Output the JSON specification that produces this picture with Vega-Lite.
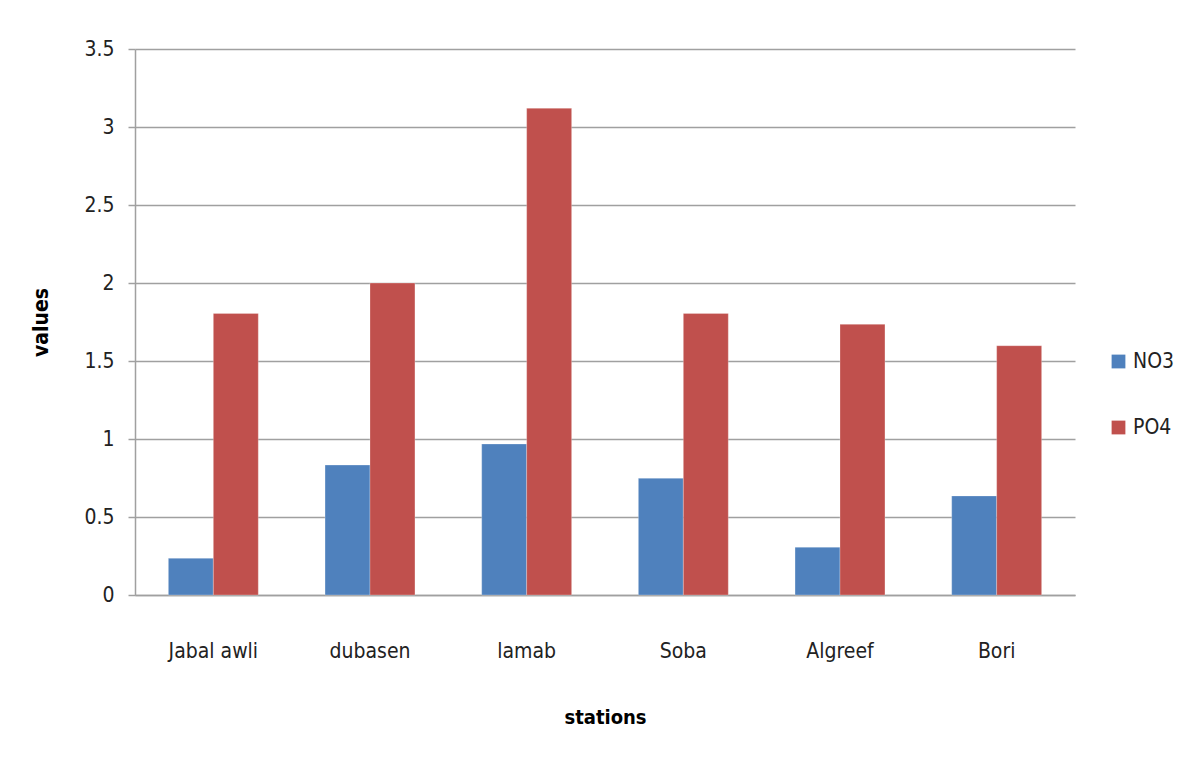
{
  "$schema": "https://vega.github.io/schema/vega-lite/v6.json",
  "width": 940,
  "height": 546,
  "autosize": {"type": "none"},
  "padding": {"left": 135, "top": 49, "right": 119, "bottom": 175},
  "background": "white",
  "config": {
    "view": {"stroke": null},
    "font": "Liberation Sans Narrow, DejaVu Sans Condensed, sans-serif"
  },
  "data": {
    "values": [
      {"station": "Jabal awli", "series": "NO3", "value": 0.235},
      {"station": "Jabal awli", "series": "PO4", "value": 1.805},
      {"station": "dubasen", "series": "NO3", "value": 0.833},
      {"station": "dubasen", "series": "PO4", "value": 2.0},
      {"station": "lamab", "series": "NO3", "value": 0.968},
      {"station": "lamab", "series": "PO4", "value": 3.12},
      {"station": "Soba", "series": "NO3", "value": 0.748},
      {"station": "Soba", "series": "PO4", "value": 1.805},
      {"station": "Algreef", "series": "NO3", "value": 0.306},
      {"station": "Algreef", "series": "PO4", "value": 1.735},
      {"station": "Bori", "series": "NO3", "value": 0.635},
      {"station": "Bori", "series": "PO4", "value": 1.598}
    ]
  },
  "mark": {"type": "bar", "stroke": "#ffffff", "strokeOpacity": 0.5, "strokeWidth": 0.5},
  "encoding": {
    "x": {
      "field": "station",
      "type": "nominal",
      "sort": ["Jabal awli", "dubasen", "lamab", "Soba", "Algreef", "Bori"],
      "scale": {"paddingInner": 0.426, "paddingOuter": 0.213},
      "axis": {
        "title": "stations",
        "titleFontSize": 20,
        "titleFontWeight": "bold",
        "titleColor": "#000000",
        "titlePadding": 46,
        "labelAngle": 0,
        "labelFontSize": 21,
        "labelColor": "#222222",
        "labelPadding": 45,
        "ticks": false,
        "domainColor": "#a0a0a0",
        "domainWidth": 1.5,
        "grid": false
      }
    },
    "xOffset": {
      "field": "series",
      "type": "nominal",
      "scale": {"paddingInner": 0, "paddingOuter": 0}
    },
    "y": {
      "field": "value",
      "type": "quantitative",
      "scale": {"domain": [0, 3.5], "nice": false},
      "axis": {
        "title": "values",
        "titleFontSize": 21,
        "titleFontWeight": "bold",
        "titleColor": "#000000",
        "titlePadding": 32,
        "values": [0, 0.5, 1, 1.5, 2, 2.5, 3, 3.5],
        "format": "~g",
        "labelFontSize": 21,
        "labelColor": "#222222",
        "labelPadding": 14,
        "tickSize": 7,
        "tickColor": "#a0a0a0",
        "tickWidth": 1.5,
        "domainColor": "#a0a0a0",
        "domainWidth": 1.5,
        "gridColor": "#a0a0a0",
        "gridWidth": 1.5
      }
    },
    "color": {
      "field": "series",
      "type": "nominal",
      "scale": {"domain": ["NO3", "PO4"], "range": ["#4F81BD", "#C0504D"]},
      "legend": {
        "title": null,
        "orient": "none",
        "legendX": 973,
        "legendY": 302,
        "symbolType": "square",
        "symbolSize": 190,
        "symbolStrokeWidth": 0,
        "labelFontSize": 21,
        "labelColor": "#222222",
        "labelOffset": 4,
        "rowPadding": 44
      }
    }
  }
}
